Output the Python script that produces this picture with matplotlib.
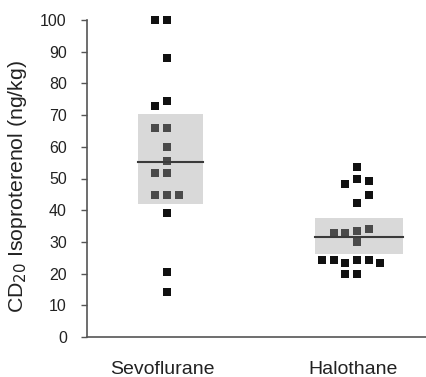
import matplotlib
matplotlib.use('Agg')
import matplotlib.pyplot as plt
from matplotlib.patches import Rectangle

plt.rcParams['font.family'] = ['Liberation Sans', 'DejaVu Sans']

groups = ['Sevoflurane', 'Halothane']

# individual values (ng/kg) and their column in the dot stack
sevo_values = [100, 100, 88, 74.5, 73, 66, 66, 60, 55.5, 51.7, 51.7,
               44.8, 44.8, 44.8, 39, 20.6, 14.1]
sevo_cols = [-1, 0, 0, 0, -1, -1, 0, 0, 0, -1, 0, -1, 0, 1, 0, 0, 0]

halo_values = [53.7, 49.7, 49.2, 48.2, 44.8, 42.4, 34, 33.4, 32.9, 32.9,
               30, 24.3, 24.3, 24.3, 24.3, 23.4, 23.4, 19.9, 19.9]
halo_cols = [0.5, 0.5, 1.5, -0.5, 1.5, 0.5, 1.5, 0.5, -1.5, -0.5,
             0.5, -2.5, -1.5, 0.5, 1.5, -0.5, 2.5, -0.5, 0.5]

# box: lower quartile, median, upper quartile
box_low = [42, 26.2]
box_med = [55.2, 31.5]
box_high = [70.2, 37.4]

# layout
tick_pos = [1, 2]
dot_center = [1.026, 1.99]
col_step = 0.0607
box_center = [1.045, 2.031]
box_width = [0.34, 0.461]

fig = plt.figure(figsize=(4.27, 3.77), dpi=100)
ax = fig.add_axes([87 / 427, 40 / 377, 340 / 427, 317 / 377])

for i, (vals, cols) in enumerate([(sevo_values, sevo_cols),
                                  (halo_values, halo_cols)]):
    xs = [dot_center[i] + c * col_step for c in cols]
    ax.scatter(xs, vals, marker='s', s=34, color='#111111',
               linewidths=0, zorder=2, clip_on=False)
    x0 = box_center[i] - box_width[i] / 2
    ax.add_patch(Rectangle((x0, box_low[i]), box_width[i],
                           box_high[i] - box_low[i],
                           facecolor='#a0a0a0', alpha=0.4,
                           edgecolor='none', zorder=3))
    ax.plot([x0, x0 + box_width[i]], [box_med[i], box_med[i]],
            color='#3a3a3a', lw=1.5, zorder=4)

ax.set_xlim(0.6073, 2.387)
ax.set_ylim(0, 100)
ax.set_yticks(range(0, 101, 10))
ax.set_xticks(tick_pos)
ax.set_xticklabels(groups, fontsize=14, color='#222222')

for s in ['top', 'right']:
    ax.spines[s].set_visible(False)
for s in ['left', 'bottom']:
    ax.spines[s].set_color('#555555')
    ax.spines[s].set_linewidth(1.2)

ax.tick_params(axis='y', length=4, width=1, color='#555555',
               labelsize=11.5, pad=10.5, labelcolor='#222222')
ax.tick_params(axis='x', length=0, pad=17)

ax.set_ylabel('CD$_{20}$ Isoproterenol (ng/kg)', fontsize=15.3,
              color='#222222')
ax.yaxis.set_label_coords(-0.17, 0.476)

fig.savefig('out.png', dpi=100)
